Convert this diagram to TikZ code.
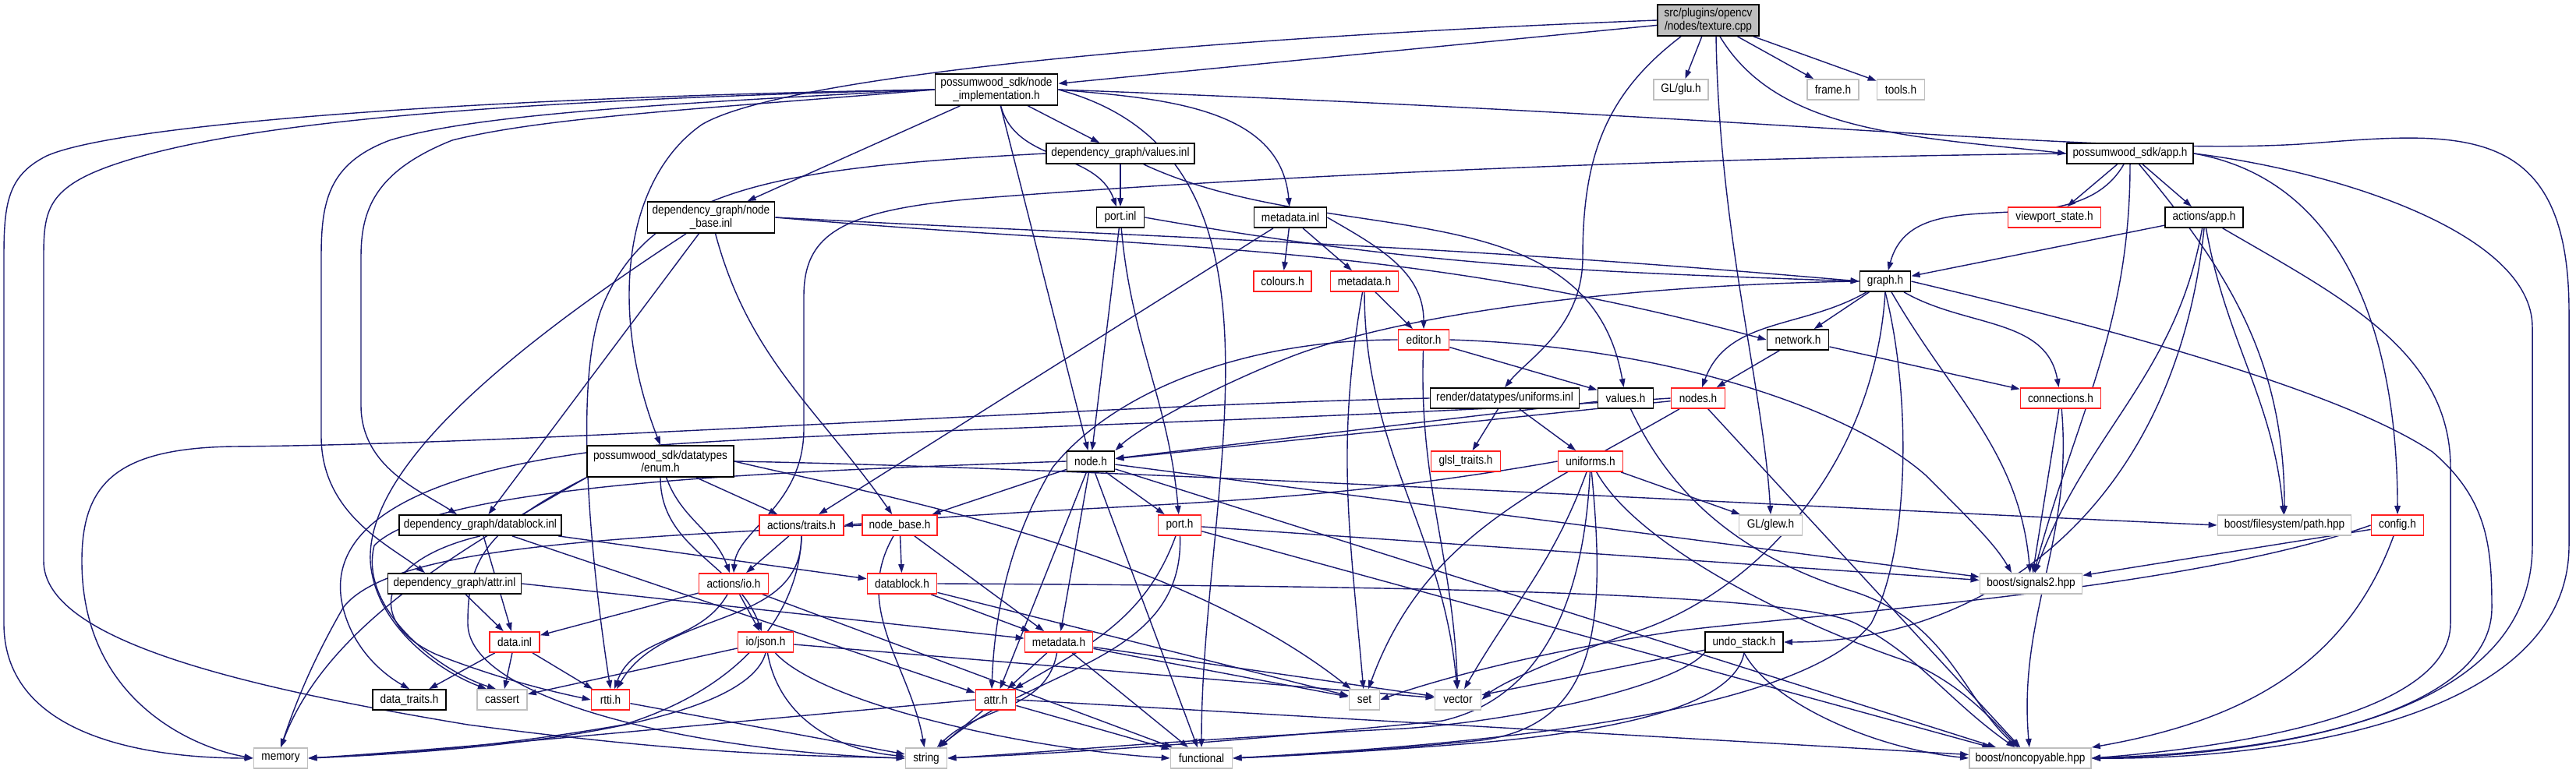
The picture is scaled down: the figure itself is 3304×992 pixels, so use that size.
\documentclass[tikz,border=0pt]{standalone}
\usepackage{fontspec}
\setmainfont{Liberation Sans}[FakeStretch=0.88]
\usetikzlibrary{arrows.meta,calc}
\definecolor{edgec}{HTML}{191970}
\definecolor{redb}{HTML}{FF2020}
\definecolor{grayb}{HTML}{BFBFBF}
\definecolor{rootfill}{HTML}{BFBFBF}
\newcommand\nfont{\fontsize{4.4}{4.7}\selectfont}
\pgfdeclarelayer{bg}
\pgfdeclarelayer{paper}
\pgfsetlayers{paper,bg,main}
\tikzset{
  nd/.style={fill=white, inner sep=0pt, align=center, font=\nfont, line width=0.5pt, text=black},
  bk/.style={nd, draw=black},
  rd/.style={nd, draw=redb},
  gy/.style={nd, draw=grayb},
  e/.style={draw=edgec, line width=0.4pt, -{Triangle[length=0.11cm, width=0.075cm]}},
}
\begin{document}
\begin{tikzpicture}[x=0.01cm,y=-0.01cm]
\useasboundingbox (0,0) rectangle (3304,992);
\begin{pgfonlayer}{paper}
\fill[white] (0,0) rectangle (3304,992);
\end{pgfonlayer}
% ---------------- nodes
\node[bk, fill=rootfill, minimum width=1.30cm, minimum height=0.40cm] (root) at (2191,26) {src/plugins/opencv\\/nodes/texture.cpp};
\node[bk, minimum width=1.57cm, minimum height=0.40cm] (ni) at (1278,115) {possumwood\_sdk/node\\\_implementation.h};
\node[gy, minimum width=0.70cm, minimum height=0.26cm] (glu) at (2156,115) {GL/glu.h};
\node[gy, minimum width=0.66cm, minimum height=0.26cm] (frame) at (2351,115) {frame.h};
\node[gy, minimum width=0.61cm, minimum height=0.26cm] (tools) at (2438,115) {tools.h};
\node[bk, minimum width=1.90cm, minimum height=0.26cm] (valinl) at (1437,197) {dependency\_graph/values.inl};
\node[bk, minimum width=1.62cm, minimum height=0.26cm] (app) at (2732,197) {possumwood\_sdk/app.h};
\node[bk, minimum width=1.63cm, minimum height=0.40cm] (nbinl) at (912,279) {dependency\_graph/node\\\_base.inl};
\node[bk, minimum width=0.61cm, minimum height=0.26cm] (portinl) at (1437,279) {port.inl};
\node[bk, minimum width=0.93cm, minimum height=0.26cm] (mdinl) at (1655,279) {metadata.inl};
\node[rd, minimum width=1.19cm, minimum height=0.26cm] (vps) at (2635,279) {viewport\_state.h};
\node[bk, minimum width=1.00cm, minimum height=0.26cm] (actapp) at (2827,279) {actions/app.h};
\node[rd, minimum width=0.74cm, minimum height=0.26cm] (colours) at (1645,361) {colours.h};
\node[rd, minimum width=0.87cm, minimum height=0.26cm] (md1) at (1750,361) {metadata.h};
\node[bk, minimum width=0.65cm, minimum height=0.26cm] (graph) at (2418,361) {graph.h};
\node[rd, minimum width=0.65cm, minimum height=0.26cm] (editor) at (1826,436) {editor.h};
\node[bk, minimum width=0.79cm, minimum height=0.26cm] (network) at (2306,436) {network.h};
\node[bk, minimum width=1.91cm, minimum height=0.26cm] (uinl) at (1930,511) {render/datatypes/uniforms.inl};
\node[bk, minimum width=0.71cm, minimum height=0.26cm] (valh) at (2085,511) {values.h};
\node[rd, minimum width=0.69cm, minimum height=0.26cm] (nodes) at (2178,511) {nodes.h};
\node[rd, minimum width=1.03cm, minimum height=0.26cm] (conn) at (2643,511) {connections.h};
\node[bk, minimum width=1.88cm, minimum height=0.40cm] (enum) at (847,592) {possumwood\_sdk/datatypes\\/enum.h};
\node[bk, minimum width=0.61cm, minimum height=0.26cm] (nodeh) at (1399,592) {node.h};
\node[rd, minimum width=0.89cm, minimum height=0.26cm] (glsl) at (1880,592) {glsl\_traits.h};
\node[rd, minimum width=0.83cm, minimum height=0.26cm] (unih) at (2040,592) {uniforms.h};
\node[bk, minimum width=2.08cm, minimum height=0.26cm] (dbinl) at (616,674) {dependency\_graph/datablock.inl};
\node[rd, minimum width=1.08cm, minimum height=0.26cm] (traits) at (1028,674) {actions/traits.h};
\node[rd, minimum width=0.96cm, minimum height=0.26cm] (nbh) at (1154,674) {node\_base.h};
\node[rd, minimum width=0.55cm, minimum height=0.26cm] (porth) at (1513,674) {port.h};
\node[gy, minimum width=0.81cm, minimum height=0.26cm] (glew) at (2271,674) {GL/glew.h};
\node[gy, minimum width=1.71cm, minimum height=0.26cm] (path) at (2930,674) {boost/filesystem/path.hpp};
\node[rd, minimum width=0.67cm, minimum height=0.26cm] (config) at (3075,674) {config.h};
\node[bk, minimum width=1.71cm, minimum height=0.26cm] (attrinl) at (583,749) {dependency\_graph/attr.inl};
\node[rd, minimum width=0.89cm, minimum height=0.26cm] (io) at (941,749) {actions/io.h};
\node[rd, minimum width=0.89cm, minimum height=0.26cm] (dbh) at (1157,749) {datablock.h};
\node[gy, minimum width=1.31cm, minimum height=0.26cm] (sig) at (2605,749) {boost/signals2.hpp};
\node[rd, minimum width=0.64cm, minimum height=0.26cm] (datainl) at (660,824) {data.inl};
\node[rd, minimum width=0.71cm, minimum height=0.26cm] (json) at (982,824) {io/json.h};
\node[rd, minimum width=0.87cm, minimum height=0.26cm] (md2) at (1358,824) {metadata.h};
\node[bk, minimum width=1.00cm, minimum height=0.26cm] (undo) at (2237,824) {undo\_stack.h};
\node[bk, minimum width=0.94cm, minimum height=0.26cm] (dtraits) at (525,898) {data\_traits.h};
\node[gy, minimum width=0.64cm, minimum height=0.26cm] (cassert) at (644,898) {cassert};
\node[rd, minimum width=0.49cm, minimum height=0.26cm] (rtti) at (783,898) {rtti.h};
\node[rd, minimum width=0.51cm, minimum height=0.26cm] (attrh) at (1277,898) {attr.h};
\node[gy, minimum width=0.39cm, minimum height=0.26cm] (set) at (1750,898) {set};
\node[gy, minimum width=0.59cm, minimum height=0.26cm] (vector) at (1870,898) {vector};
\node[gy, minimum width=0.69cm, minimum height=0.26cm] (memory) at (360,973) {memory};
\node[gy, minimum width=0.53cm, minimum height=0.26cm] (string) at (1188,973) {string};
\node[gy, minimum width=0.79cm, minimum height=0.26cm] (functional) at (1541,973) {functional};
\node[gy, minimum width=1.56cm, minimum height=0.26cm] (noncopy) at (2604,973) {boost/noncopyable.hpp};
% ---------------- edges
\begin{pgfonlayer}{bg}
% root
\draw[e] (root) -- (ni);
\draw[e] (root.west) .. controls (1500,50) and (1000,100) .. (900,160) .. controls (800,230) and (780,400) .. (enum.north);
\draw[e] (root) -- (glu);
\draw[e] (root) -- (frame);
\draw[e] (root) -- (tools);
\draw[e] ($(root.south)+(15,0)$) .. controls (2280,170) and (2450,175) .. (app.west);
\draw[e] ($(root.south)+(-35,0)$) .. controls (2060,120) and (2030,200) .. (2030,330) .. controls (2030,420) and (1960,460) .. (uinl.north);
\draw[e] ($(root.south)+(10,0)$) .. controls (2205,300) and (2262,500) .. (glew.north);
% node_implementation.h
\draw[e] (ni) -- (valinl);
\draw[e] (ni) to[out=-75,in=110] (portinl);
\draw[e] (ni.east) to[out=-5,in=95] (mdinl);
\draw[e] (ni) -- (nbinl);
\draw[e] (ni) -- (nodeh);
\draw[e] (ni.east) to[out=-15,in=90] (functional);
\draw[e] (ni.east) .. controls (2300,150) and (2700,200) .. (2950,185) .. controls (3150,170) and (3295,150) .. (3295,400) -- (3295,700) .. controls (3295,930) and (2900,975) .. (noncopy.east);
\draw[e] (ni.west) .. controls (600,125) and (150,160) .. (60,200) .. controls (10,225) and (5,260) .. (5,330) -- (5,800) .. controls (5,950) and (200,973) .. (memory.west);
\draw[e] (ni.west) .. controls (600,130) and (300,160) .. (150,210) .. controls (60,240) and (56,270) .. (56,330) -- (56,720) .. controls (56,820) and (300,880) .. (600,930) .. controls (900,970) and (1050,970) .. (string.west);
\draw[e] (ni.west) .. controls (800,135) and (600,150) .. (500,180) .. controls (420,210) and (412,260) .. (412,330) -- (412,560) .. controls (412,660) and (500,700) .. ($(attrinl.north)+(-38,0)$);
\draw[e] (ni.west) .. controls (900,140) and (700,150) .. (580,180) .. controls (480,220) and (463,270) .. (463,330) -- (463,520) .. controls (463,600) and (540,630) .. ($(dbinl.north)+(-30,0)$);
% values.inl
\draw[e] (valinl) -- (portinl);
\draw[e] (valinl) to[out=-25,in=100] (valh);
\draw[e] (valinl.west) .. controls (1000,215) and (830,240) .. (770,400) .. controls (730,520) and (770,800) .. (rtti.north);
% app.h
\draw[e] (app.west) .. controls (2000,205) and (1500,235) .. (1250,255) .. controls (1080,270) and (1031,300) .. (1031,380) -- (1031,550) .. controls (1031,650) and (945,680) .. (io.north);
\draw[e] (app) to[out=-120,in=75] (graph);
\draw[e] (app) -- (vps);
\draw[e] (app) to[out=-90,in=75] (sig);
\draw[e] (app) -- (actapp);
\draw[e] (app) to[out=-50,in=90] (path);
\draw[e] (app.east) to[out=-10,in=90] (config);
\draw[e] (app.east) .. controls (3000,220) and (3248,300) .. (3248,420) -- (3248,700) .. controls (3248,930) and (2900,965) .. (noncopy.east);
% node_base.inl
\draw[e] (nbinl.east) to[out=-3,in=175] (graph.west);
\draw[e] (nbinl.east) to[out=-5,in=165] (network.west);
\draw[e] (nbinl) -- (dbinl);
\draw[e] (nbinl) to[out=-75,in=125] (nbh);
\draw[e] (nbinl) .. controls (650,450) and (470,600) .. (475,720) .. controls (480,800) and (560,860) .. ($(cassert.north)+(-20,0)$);
% port.inl
\draw[e] (portinl.east) to[out=-10,in=178] (graph.west);
\draw[e] (portinl) -- (nodeh);
\draw[e] (portinl) to[out=-85,in=95] (porth);
% metadata.inl
\draw[e] (mdinl) -- (colours);
\draw[e] (mdinl) -- (md1);
\draw[e] (mdinl.east) to[out=-30,in=90] (editor);
\draw[e] (mdinl) -- (traits);
% actions/app.h
\draw[e] (actapp) -- (graph);
\draw[e] (actapp.south) .. controls (2790,650) and (2550,824) .. (undo.east);
\draw[e] (actapp) to[out=-100,in=70] (sig);
\draw[e] (actapp) to[out=-80,in=95] (path);
\draw[e] (actapp) .. controls (3000,380) and (3143,450) .. (3143,600) -- (3143,800) .. controls (3143,920) and (2850,960) .. (noncopy.east);
% metadata.h (1)
\draw[e] (md1) -- (editor);
\draw[e] (md1) to[out=-100,in=95] (set);
\draw[e] (md1) to[out=-90,in=95] (vector);
% graph.h
\draw[e] (graph) -- (network);
\draw[e] (graph) to[out=-150,in=70] (nodes);
\draw[e] (graph.west) .. controls (2100,365) and (1800,400) .. (1650,460) .. controls (1550,500) and (1460,550) .. (nodeh.north east);
\draw[e] (graph.south) .. controls (2404,600) and (2250,760) .. (2100,810) .. controls (1980,850) and (1920,880) .. (vector.east);
\draw[e] (graph.south) .. controls (2450,500) and (2452,700) .. (2400,800) .. controls (2300,930) and (1800,960) .. (functional.east);
\draw[e] (graph) to[out=-60,in=95] (sig);
\draw[e] (graph) to[out=-30,in=100] (conn);
\draw[e] (graph.east) .. controls (2700,420) and (3000,500) .. (3120,580) .. controls (3190,640) and (3196,700) .. (3196,780) .. controls (3196,920) and (2900,970) .. (noncopy.east);
% editor.h
\draw[e] (editor.west) .. controls (1600,436) and (1430,500) .. (1350,600) .. controls (1290,700) and (1275,800) .. ($(attrh.north)+(-5,0)$);
\draw[e] (editor) to[out=-92,in=92] (vector);
\draw[e] (editor) -- (valh);
\draw[e] (editor.east) .. controls (2150,445) and (2380,530) .. (2470,610) .. controls (2530,670) and (2560,700) .. ($(sig.north)+(-25,0)$);
% network.h
\draw[e] (network) -- (nodes);
\draw[e] (network) -- (conn);
% uniforms.inl
\draw[e] (uinl) -- (glsl);
\draw[e] (uinl) -- (unih);
\draw[e] (uinl.west) .. controls (1400,520) and (700,570) .. (300,573) .. controls (150,575) and (105,620) .. (105,720) .. controls (105,900) and (250,960) .. (memory.west);
% values.h
\draw[e] (valh) -- (nodeh);
\draw[e] (valh) .. controls (2150,650) and (2250,720) .. (2380,760) .. controls (2500,800) and (2520,900) .. (noncopy);
% nodes.h
\draw[e] (nodes) -- (nodeh);
\draw[e] (nodes) to[out=-150,in=70] (set);
\draw[e] (nodes) -- (noncopy);
\draw[e] (nodes.west) .. controls (1700,540) and (1000,555) .. (800,575) .. controls (480,610) and (420,700) .. (440,780) .. controls (455,840) and (500,870) .. (dtraits.north);
% connections.h
\draw[e] (conn) -- (sig);
\draw[e] (conn) to[out=-85,in=95] (noncopy);
% enum.h
\draw[e] (enum) -- (traits);
\draw[e] (enum) to[out=-70,in=110] (io);
\draw[e] (enum) to[out=-90,in=110] (json);
\draw[e] (enum.east) .. controls (1100,630) and (1500,700) .. (set);
\draw[e] (enum.east) .. controls (1400,600) and (2300,650) .. (path.west);
\draw[e] (enum.south west) .. controls (600,700) and (420,800) .. (memory.north);
\draw[e] (enum.south west) .. controls (620,680) and (600,720) .. (600,800) .. controls (600,900) and (900,965) .. (string.west);
% node.h
\draw[e] (nodeh) -- (nbh);
\draw[e] (nodeh) -- (attrh);
\draw[e] (nodeh) -- (md2);
\draw[e] (nodeh) -- (functional);
\draw[e] (nodeh) -- (porth);
\draw[e] (nodeh) -- (sig);
\draw[e] (nodeh) -- (noncopy);
\draw[e] (nodeh.west) .. controls (1000,605) and (560,620) .. (480,700) .. controls (460,780) and (560,860) .. ($(cassert.north)+(-8,0)$);
% uniforms.h
\draw[e] (unih.west) to[out=190,in=5] (traits.east);
\draw[e] (unih) to[out=-110,in=60] (vector);
\draw[e] (unih) .. controls (2030,800) and (1960,900) .. (1850,925) .. controls (1600,950) and (1400,965) .. (string.east);
\draw[e] (unih) .. controls (2060,800) and (2050,930) .. (1900,950) .. controls (1750,965) and (1650,970) .. (functional.east);
\draw[e] (unih) .. controls (2100,700) and (2300,800) .. (2450,850) .. controls (2520,880) and (2560,930) .. (noncopy);
\draw[e] (unih) -- (glew);
% datablock.inl
\draw[e] (dbinl) -- (datainl);
\draw[e] (dbinl) -- (dbh);
\draw[e] (dbinl.south) .. controls (480,720) and (470,800) .. (560,840) .. controls (650,875) and (720,890) .. (rtti.west);
\draw[e] (dbinl) -- (attrh);
% actions/traits.h
\draw[e] (traits) -- (io);
\draw[e] (traits) to[out=-90,in=60] (rtti);
\draw[e] (traits.south) .. controls (1025,780) and (960,880) .. (800,930) .. controls (600,965) and (450,970) .. (memory.east);
% actions/io.h
\draw[e] (io) -- (datainl);
\draw[e] (io) to[out=-120,in=70] (rtti);
\draw[e] (io) -- (json);
\draw[e] (io) -- (functional);
% data.inl
\draw[e] (datainl) -- (dtraits);
\draw[e] (datainl) -- (cassert);
\draw[e] (datainl) -- (rtti);
% attr.inl
\draw[e] (attrinl) -- (datainl);
\draw[e] (attrinl.east) -- (md2);
% io/json.h
\draw[e] (json) -- (cassert);
\draw[e] (json.south) .. controls (960,920) and (700,960) .. (memory.east);
\draw[e] (json) to[out=-80,in=175] (string);
\draw[e] (json) .. controls (1050,900) and (1300,960) .. (functional.west);
\draw[e] (json) -- (vector);
% node_base.h
\draw[e] (nbh) -- (dbh);
\draw[e] (nbh) -- (md2);
\draw[e] (nbh) to[out=-120,in=100] (string);
\draw[e] (nbh.west) .. controls (800,690) and (500,700) .. (440,780) .. controls (400,850) and (380,900) .. (memory.north);
% datablock.h
\draw[e] (dbh) -- (md2);
\draw[e] (dbh) -- (set);
\draw[e] (dbh.east) .. controls (1800,752) and (2300,760) .. (2380,800) .. controls (2460,840) and (2500,900) .. (noncopy);
% metadata.h (2)
\draw[e] (md2) -- (attrh);
\draw[e] (md2) to[out=-100,in=45] (string);
\draw[e] (md2) -- (functional);
\draw[e] (md2) -- (set);
\draw[e] (md2) -- (vector);
% port.h
\draw[e] (porth) to[out=-110,in=30] (attrh);
\draw[e] (porth) to[out=-88,in=40] (string);
\draw[e] (porth) -- (sig);
\draw[e] (porth) -- (noncopy);
% attr.h
\draw[e] (attrh) -- (string);
\draw[e] (attrh) -- (functional);
\draw[e] (attrh.east) -- (noncopy);
\draw[e] (attrh.west) .. controls (900,930) and (600,960) .. (memory.east);
% rtti.h
\draw[e] (rtti) -- (string);
% config.h
\draw[e] (config) -- (sig);
\draw[e] (config) to[out=-110,in=10] (noncopy);
\draw[e] (config.west) .. controls (2800,760) and (2300,790) .. (2150,810) .. controls (1950,840) and (1820,880) .. (set.east);
% undo_stack.h
\draw[e] (undo) -- (vector);
\draw[e] (undo.south west) .. controls (2150,880) and (1950,925) .. (1800,935) .. controls (1500,950) and (1350,965) .. (string.east);
\draw[e] (undo.south) .. controls (2225,900) and (2100,935) .. (1900,953) .. controls (1750,965) and (1650,970) .. (functional.east);
\draw[e] (undo.south) .. controls (2270,900) and (2400,960) .. (noncopy.west);
\end{pgfonlayer}
\end{tikzpicture}
\end{document}
